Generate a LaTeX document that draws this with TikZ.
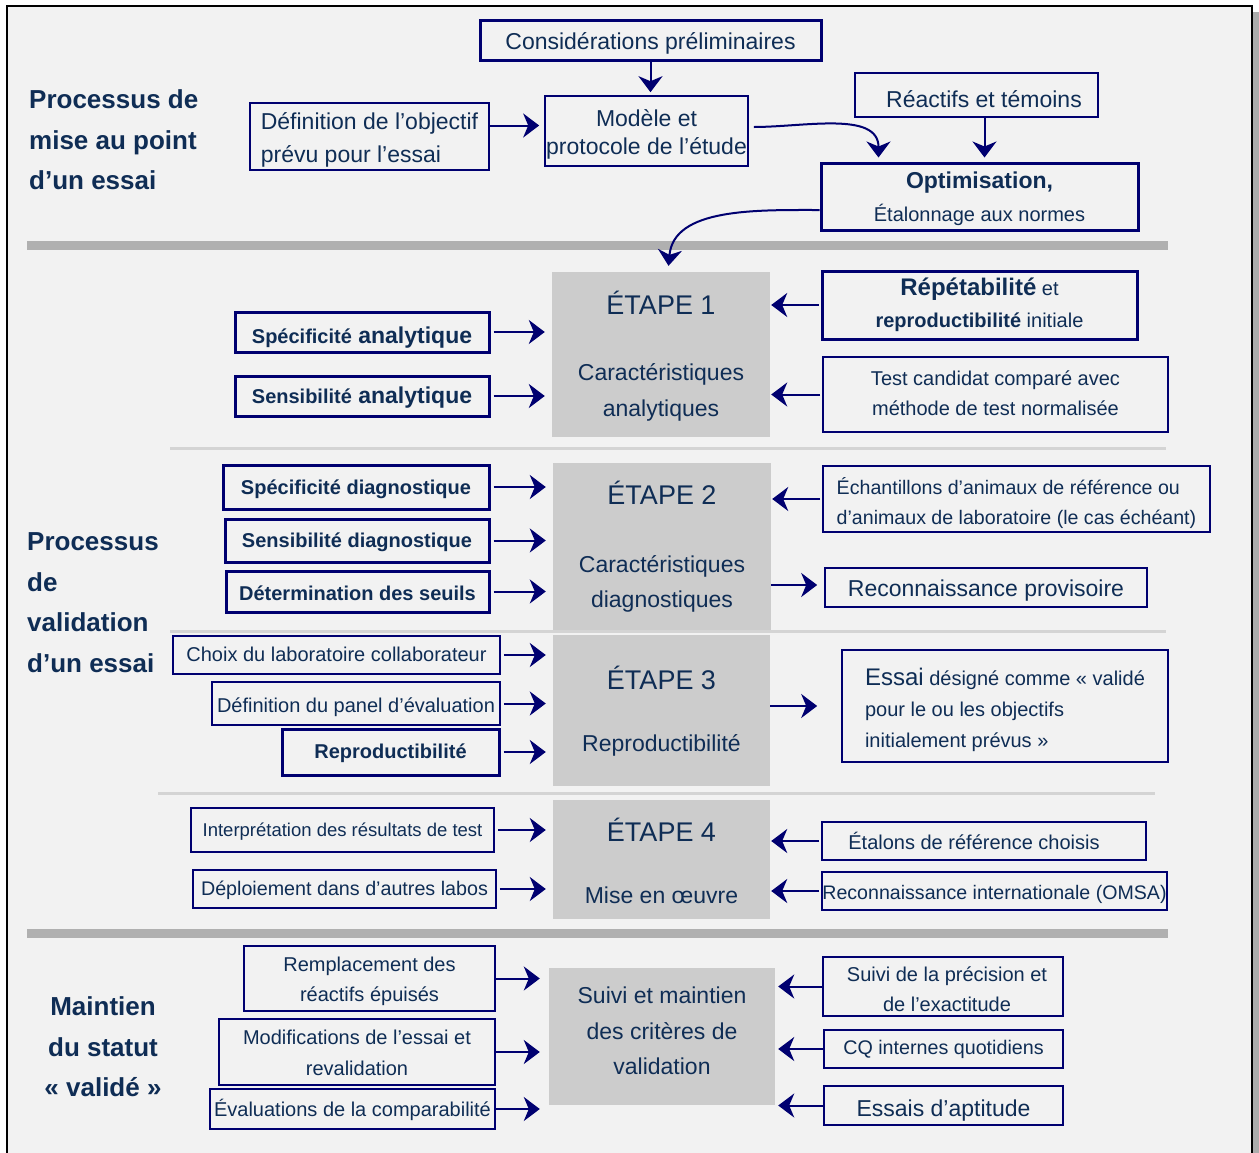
\documentclass[tikz,border=0pt]{standalone}
\usepackage{fontspec}
\setmainfont{Liberation Sans}
\usetikzlibrary{arrows.meta,calc}
\definecolor{bg}{HTML}{F2F2F2}
\definecolor{navy}{HTML}{000070}
\definecolor{txt}{HTML}{0F2D55}
\definecolor{boxgray}{HTML}{CCCCCC}
\definecolor{sepgray}{HTML}{B0B0B0}
\definecolor{septhin}{HTML}{D4D4D4}
\newcommand\fsz[2]{\fontsize{#1}{#2}\selectfont}
\begin{document}
\begin{tikzpicture}[x=1pt,y=-1pt,
  every node/.style={text=txt, inner sep=0pt, align=center},
  wh/.style 2 args={minimum width=#1pt, minimum height=#2pt},
  bl/.style={text depth=0pt, text height=#1pt},
  thinbox/.style={draw=navy, line width=1.6pt, font=\fsz{20}{30}},
  thickbox/.style={draw=navy, line width=3pt, font=\fsz{20}{30}},
  stage/.style={fill=boxgray, font=\fsz{23}{36}},
  title/.style={font=\fsz{26}{40.5}\bfseries},
  arr/.style={draw=navy, line width=2pt, -{Stealth[length=16pt,width=24pt,inset=5pt]}},
  sep/.style={draw=sepgray, line width=9pt},
  sepl/.style={draw=septhin, line width=3pt}]
\useasboundingbox (0,0) rectangle (1259,1152);
% frame
\fill[gray!65] (1252,12) rectangle (1259,1170);
\fill[bg] (7,6) rectangle (1252,1170);
\draw[black, line width=1.2pt] (7,1170) -- (7,6) -- (1252,6) -- (1252,1170);
% separators
\draw[sep] (27,245) -- (1168,245);
\draw[sep] (27,933) -- (1168,933);
\draw[sepl] (170,448) -- (1166,448);
\draw[sepl] (170,631) -- (1166,631);
\draw[sepl] (158,793) -- (1155,793);
% titles
\node[title, align=left, anchor=west] (t1) at (29,140) {Processus de\\mise au point\\d’un essai};
\node[title, align=left, anchor=west] (t2) at (27,602.5) {Processus\\de\\validation\\d’un essai};
\node[title] (t3) at (103,1047) {Maintien\\du statut\\«~validé~»};
% top section
\node[thickbox, wh={341}{40}, font=\fsz{23}{28}, bl=19.2] (c0) at (650.5,40) {Considérations préliminaires};
\node[thinbox, wh={203}{70}, font=\fsz{23}{28}, bl=47.2] (mod) at (646.5,131) {Modèle et\\protocole de l’étude};
\node[thinbox, wh={239}{67}, font=\fsz{23}{33}, align=left, bl=52.2] (def) at (369.5,136.5) {Définition de l’objectif\\prévu pour l’essai};
\node[thinbox, wh={243}{44}, font=\fsz{23}{28}, bl=25.2] (rea) at (976.5,95) {\hspace*{15pt}Réactifs et témoins};
\node[thickbox, wh={317}{67}, font=\fsz{20}{33}, bl=50.2] (opt) at (979.5,196.5) {{\fsz{23}{33}\bfseries Optimisation,}\\Étalonnage aux normes};
% stage boxes
\node[stage, wh={218}{165}, bl=124.2] (e1) at (661,354.5) {{\fsz{27}{36}ÉTAPE 1}\\[30pt]Caractéristiques\\analytiques};
\node[stage, wh={218}{167}, font=\fsz{23}{35}, bl=122.2] (e2) at (662,546.5) {{\fsz{27}{35}ÉTAPE 2}\\[33pt]Caractéristiques\\diagnostiques};
\node[stage, wh={217}{151}, bl=82.2] (e3) at (661.5,710.5) {{\fsz{27}{36}ÉTAPE 3}\\[26pt]Reproductibilité};
\node[stage, wh={217}{119}, bl=88.2] (e4) at (661.5,859.5) {{\fsz{27}{36}ÉTAPE 4}\\[26pt]Mise en œuvre};
\node[stage, wh={226}{137}, font=\fsz{23}{35.5}, bl=76.2] (sv) at (662,1036.5) {Suivi et maintien\\des critères de\\validation};
% stage 1 inputs
\node[thickbox, wh={254}{40}, font=\fsz{23}{28}\bfseries, bl=23] (sa1) at (362,332) {{\fsz{20}{28}Spécificité} analytique};
\node[thickbox, wh={254}{40}, font=\fsz{23}{28}\bfseries, bl=15] (sa2) at (362,396) {{\fsz{20}{28}Sensibilité} analytique};
\node[thickbox, wh={315}{68}, font=\fsz{20}{32}, bl=45.2] (r1a) at (979.5,305) {{\fsz{24}{32}\bfseries Répétabilité} et\\{\bfseries reproductibilité} initiale};
\node[thinbox, wh={345}{75}, font=\fsz{20}{30}, bl=42.2] (r1b) at (995.5,394.5) {Test candidat comparé avec\\méthode de test normalisée};
% stage 2
\node[thickbox, wh={266}{44}, font=\fsz{20}{28}\bfseries, bl=15.2] (sd1) at (356,487) {Spécificité diagnostique};
\node[thickbox, wh={264}{43}, font=\fsz{20}{28}\bfseries, bl=14.2] (sd2) at (357,540.5) {Sensibilité diagnostique};
\node[thickbox, wh={263}{41}, font=\fsz{20}{28}\bfseries, bl=18.2] (sd3) at (357.5,591.5) {Détermination des seuils};
\node[thinbox, wh={387}{66}, font=\fsz{19.6}{30}, align=left, bl=51] (r2a) at (1016.5,499) {Échantillons d’animaux de référence ou\\d’animaux de laboratoire (le cas échéant)};
\node[thinbox, wh={322}{39}, font=\fsz{23}{28}, bl=18.2] (r2b) at (986,587.5) {Reconnaissance provisoire};
% stage 3
\node[thinbox, wh={327}{38}, bl=13.2] (s3a) at (336.5,655) {Choix du laboratoire collaborateur};
\node[thinbox, wh={288}{43}, bl=18.2] (s3b) at (356,703.5) {Définition du panel d’évaluation};
\node[thickbox, wh={217}{46}, font=\fsz{20}{28}\bfseries, bl=13.2] (s3c) at (390.5,752) {Reproductibilité};
\node[thinbox, wh={326}{112}, font=\fsz{20}{31}, align=left, bl=83.2] (r3) at (1005,706) {{\fsz{24}{31}Essai} désigné comme «~validé\\pour le ou les objectifs\\initialement prévus~»};
% stage 4
\node[thinbox, wh={303}{44}, font=\fsz{18.5}{28}, bl=12.2] (s4a) at (342.5,830) {Interprétation des résultats de test};
\node[thinbox, wh={303}{38}, font=\fsz{19.7}{28}, bl=13] (s4b) at (344.5,889) {Déploiement dans d’autres labos};
\node[thinbox, wh={324}{38}, font=\fsz{20}{28}, bl=17.2] (r4a) at (984,841) {Étalons de référence choisis\hspace*{20pt}};
\node[thinbox, wh={345}{38}, font=\fsz{19.6}{28}, bl=17] (r4b) at (994.5,891) {Reconnaissance internationale (OMSA)};
% maintenance
\node[thinbox, wh={251}{65}, bl=46.2] (s5a) at (369.5,978.5) {Remplacement des\\réactifs épuisés};
\node[thinbox, wh={276}{66}, font=\fsz{20}{31}, bl=47.2] (s5b) at (357,1052) {Modifications de l’essai et\\revalidation};
\node[thinbox, wh={285}{40}, font=\fsz{20}{28}, bl=15.2] (s5c) at (352.5,1109) {Évaluations de la comparabilité};
\node[thinbox, wh={240}{59}, bl=50.2] (r5a) at (943,986.5) {\hspace*{8pt}Suivi de la précision et\\\hspace*{8pt}de l’exactitude};
\node[thinbox, wh={239}{38}, font=\fsz{19.7}{28}, bl=11] (r5b) at (943.5,1049) {CQ internes quotidiens};
\node[thinbox, wh={239}{39}, font=\fsz{23}{28}, bl=22.2] (r5c) at (943.5,1105.5) {Essais d’aptitude};
% top arrows
\draw[arr, shorten >=5pt] ([yshift=11pt]def.east) -- ([yshift=11pt]def.east -| mod.west);
\draw[arr, shorten >=3pt] (c0.south) -- (c0.south |- mod.north);
\draw[arr, shorten >=4pt] ([xshift=8pt]rea.south) -- ([xshift=8pt]rea.south |- opt.north);
\draw[arr, shorten >=4pt] ([xshift=5pt,yshift=4pt]mod.east) to[out=0,in=90] ([xshift=59pt]opt.north west);
\draw[arr, shorten >=6pt] ([yshift=-13.5pt]opt.west) to[out=180,in=85] ([xshift=7pt]e1.north);
% left inputs
\foreach \a/\b in {sa1/e1,sa2/e1,sd1/e2,sd2/e2,sd3/e2,s3a/e3,s3b/e3,s3c/e3,s4a/e4,s4b/e4}
  \draw[arr, shorten >=7pt, shorten <=3pt] (\a.east) -- (\a.east -| \b.west);
\foreach \a in {s5a,s5b,s5c}
  \draw[arr, shorten >=9pt] (\a.east) -- (\a.east -| sv.west);
% right inputs
\foreach \a/\b in {r1a/e1,r1b/e1,r2a/e2,r4a/e4,r4b/e4}
  \draw[arr, shorten >=1pt, shorten <=2pt] (\a.west) -- (\a.west -| \b.east);
\foreach \a in {r5a,r5b,r5c}
  \draw[arr, shorten >=3pt] (\a.west) -- (\a.west -| sv.east);
% outputs
\draw[arr, shorten >=7pt] ([yshift=2.5pt]e2.east |- r2b.west) -- ([yshift=2.5pt]r2b.west);
\draw[arr, shorten >=24pt] (e3.east |- r3.west) -- (r3.west);
\end{tikzpicture}
\end{document}
